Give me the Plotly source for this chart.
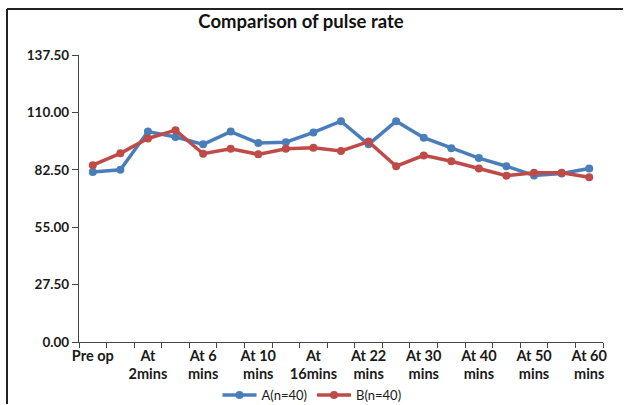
import plotly.graph_objects as go

categories = ["Pre op", "At 1 min", "At 2mins", "At 4 mins", "At 6 mins", "At 8 mins",
              "At 10 mins", "At 13 mins", "At 16mins", "At 19 mins", "At 22 mins",
              "At 26 mins", "At 30 mins", "At 35 mins", "At 40 mins", "At 45 mins",
              "At 50 mins", "At 55 mins", "At 60 mins"]
tick_labels = ["Pre op", "", "At<br>2mins", "", "At 6<br>mins", "", "At 10<br>mins", "",
               "At<br>16mins", "", "At 22<br>mins", "", "At 30<br>mins", "", "At 40<br>mins",
               "", "At 50<br>mins", "", "At 60<br>mins"]
series_a = [81.5, 82.5, 100.8, 98.2, 94.7, 100.8, 95.3, 95.7, 100.4, 105.8,
            94.7, 105.8, 97.9, 92.8, 88.1, 84.2, 79.8, 80.7, 83.1]
series_b = [84.7, 90.4, 97.5, 101.5, 90.2, 92.6, 89.9, 92.6, 93.1, 91.5,
            96.0, 84.2, 89.4, 86.6, 83.1, 79.7, 81.1, 81.1, 78.9]
y_ticks = [0, 27.5, 55, 82.5, 110, 137.5]

FONT = "Lato"
W, H = 624, 405
L, R, T, B = 79, 21, 55, 63
pw, ph = W - L - R, H - T - B

fig = go.Figure()
fig.add_trace(go.Scatter(x=categories, y=series_a, name="A(n=40)", mode="lines+markers",
                         line=dict(color="#4A7EBB", width=3.5),
                         marker=dict(color="#4A7EBB", size=8)))
fig.add_trace(go.Scatter(x=categories, y=series_b, name="B(n=40)", mode="lines+markers",
                         line=dict(color="#BE4B48", width=3.5),
                         marker=dict(color="#BE4B48", size=8)))

def px_x(p):
    return (p - L) / pw

def px_y(p):
    return (H - B - p) / ph

fig.update_layout(
    width=W, height=H,
    margin=dict(l=L, r=R, t=T, b=B, autoexpand=False),
    paper_bgcolor="white", plot_bgcolor="white",
    font=dict(family=FONT, color="#1a1a1a"),
    title=dict(text="<b>Comparison of pulse rate</b>", x=301 / W, xanchor="center",
               y=1 - 22 / H, yanchor="middle", font=dict(size=18.5, family=FONT, color="#111")),
    showlegend=True,
    legend=dict(orientation="h", x=px_x(312), xanchor="center", y=px_y(395), yanchor="middle",
                font=dict(size=13, family=FONT, color="#1a1a1a"), bgcolor="rgba(0,0,0,0)",
                itemwidth=34),
    xaxis=dict(type="category", categoryorder="array", categoryarray=categories,
               range=[-0.5, len(categories) - 0.5],
               tickmode="array", tickvals=categories, ticktext=tick_labels,
               tickson="boundaries", ticks="outside", ticklen=5, tickcolor="#444",
               tickangle=0, showline=True, linecolor="#444", linewidth=1.3,
               showgrid=False, zeroline=False, automargin=False,
               tickfont=dict(size=14.5, family=FONT, color="#1a1a1a", weight="bold")),
    yaxis=dict(range=[0, 137.5], tickmode="array", tickvals=y_ticks,
               ticktext=[f"{v:.2f}" for v in y_ticks],
               ticks="outside", ticklen=6, tickcolor="#444",
               showline=True, linecolor="#444", linewidth=1.3,
               showgrid=False, zeroline=False, automargin=False,
               tickfont=dict(size=13.5, family=FONT, color="#1a1a1a", weight="bold")),
)

fig.add_shape(type="line", xref="paper", yref="paper",
              x0=px_x(7), x1=px_x(7), y0=px_y(404), y1=px_y(9),
              line=dict(color="#222", width=2), layer="below")
fig.add_shape(type="line", xref="paper", yref="paper",
              x0=px_x(7), x1=px_x(623), y0=px_y(9), y1=px_y(9),
              line=dict(color="#222", width=2), layer="below")

fig.write_html("out.html")
